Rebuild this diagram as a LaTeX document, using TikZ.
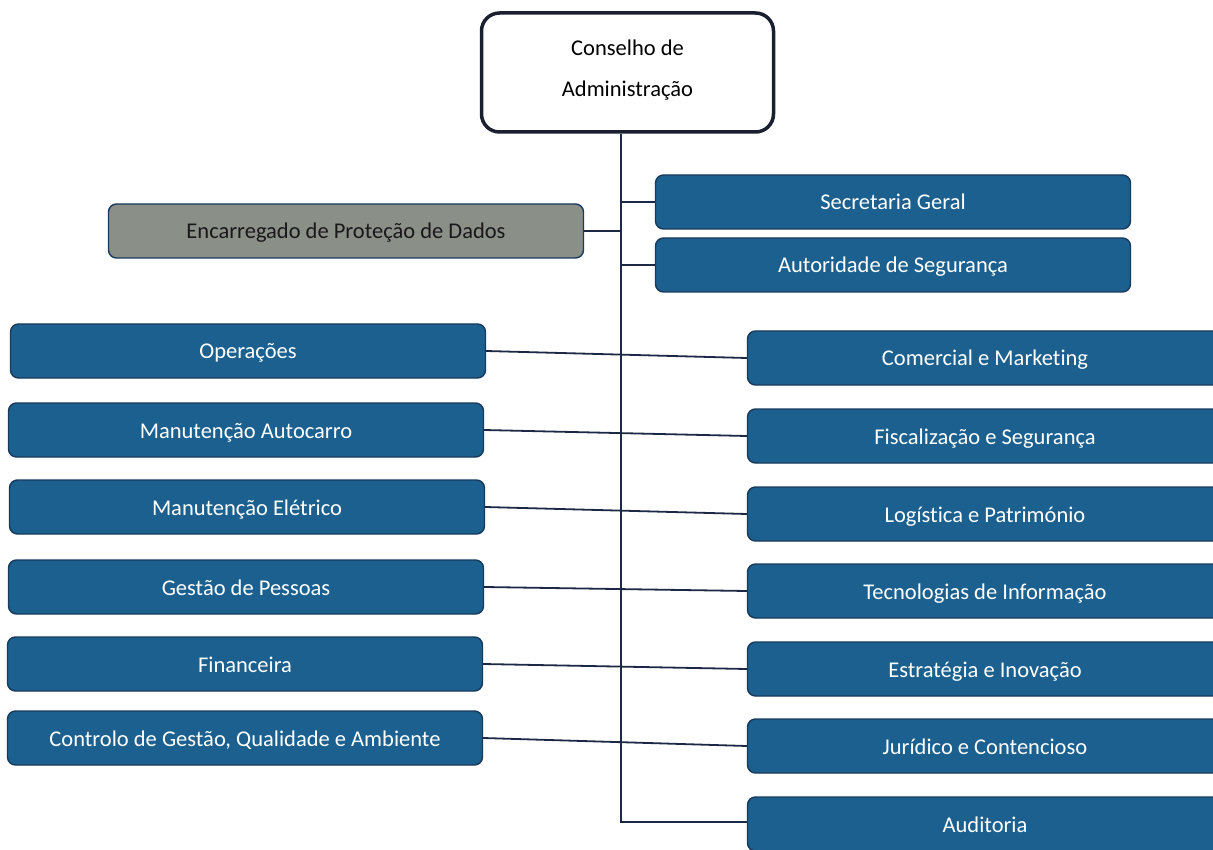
\documentclass[tikz,border=0pt]{standalone}
\usepackage{fontspec}
\setmainfont{Carlito}[Ligatures=NoCommon]
\definecolor{boxblue}{RGB}{27,96,142}
\definecolor{boxedge}{RGB}{24,58,92}
\definecolor{linenavy}{RGB}{28,40,70}
\definecolor{grayfill}{RGB}{138,143,136}
\definecolor{topedge}{RGB}{26,32,48}
\begin{document}
\begin{tikzpicture}[x=1pt,y=-1pt,
  unit/.style={draw=boxedge,fill=boxblue,line width=1.4pt,rounded corners=8pt,
    minimum width=475pt,minimum height=54pt,inner sep=0pt,text=white,
    text height=16pt,text depth=0pt,
    font=\fontsize{22.5}{27}\selectfont},
  grayunit/.style={unit,fill=grayfill,text=black!90},
  topunit/.style={draw=topedge,fill=white,line width=3.5pt,rounded corners=18pt,
    minimum width=292pt,minimum height=119pt,inner sep=0pt},
  toptext/.style={align=center,inner sep=0pt,font=\fontsize{22.5}{41}\selectfont},
  conn/.style={draw=linenavy,line width=1.8pt}]
\useasboundingbox (0,0) rectangle (1213,850);
\fill[white] (0,0) rectangle (1213,850);
% top
\node[topunit] (ca) at (627.5,72.5) {};
\node[toptext] (cat) at (627.5,70) {Conselho de\\Administração};
% trunk coordinates
\coordinate (tb) at (621,822);
% right upper
\node[unit] (sg) at (893,202) {Secretaria Geral};
\node[unit] (as) at (893,265) {Autoridade de Segurança};
\node[grayunit] (ep) at (346,231) {Encarregado de Proteção de Dados};
% left column
\node[unit] (op) at (248,351) {Operações};
\node[unit] (ma) at (246,430) {Manutenção Autocarro};
\node[unit] (me) at (247,507) {Manutenção Elétrico};
\node[unit] (gp) at (246,587) {Gestão de Pessoas};
\node[unit] (fi) at (245,664) {Financeira};
\node[unit] (cg) at (245,738) {Controlo de Gestão, Qualidade e Ambiente};
% right column
\node[unit] (cm) at (985,358) {Comercial e Marketing};
\node[unit] (fs) at (985,436) {Fiscalização e Segurança};
\node[unit] (lp) at (985,514) {Logística e Património};
\node[unit] (ti) at (985,591) {Tecnologias de Informação};
\node[unit] (ei) at (985,669) {Estratégia e Inovação};
\node[unit] (jc) at (985,746) {Jurídico e Contencioso};
\node[unit] (au) at (985,824) {Auditoria};
% connectors
\draw[conn] (ca.south -| tb) -- (tb) -- (tb -| au.west);
\draw[conn] (sg.west -| tb) -- (sg.west);
\draw[conn] (as.west -| tb) -- (as.west);
\draw[conn] (ep.east) -- (ep.east -| tb);
\draw[conn] (op.east) -- (cm.west);
\draw[conn] (ma.east) -- (fs.west);
\draw[conn] (me.east) -- (lp.west);
\draw[conn] (gp.east) -- (ti.west);
\draw[conn] (fi.east) -- (ei.west);
\draw[conn] (cg.east) -- (jc.west);
\end{tikzpicture}
\end{document}
